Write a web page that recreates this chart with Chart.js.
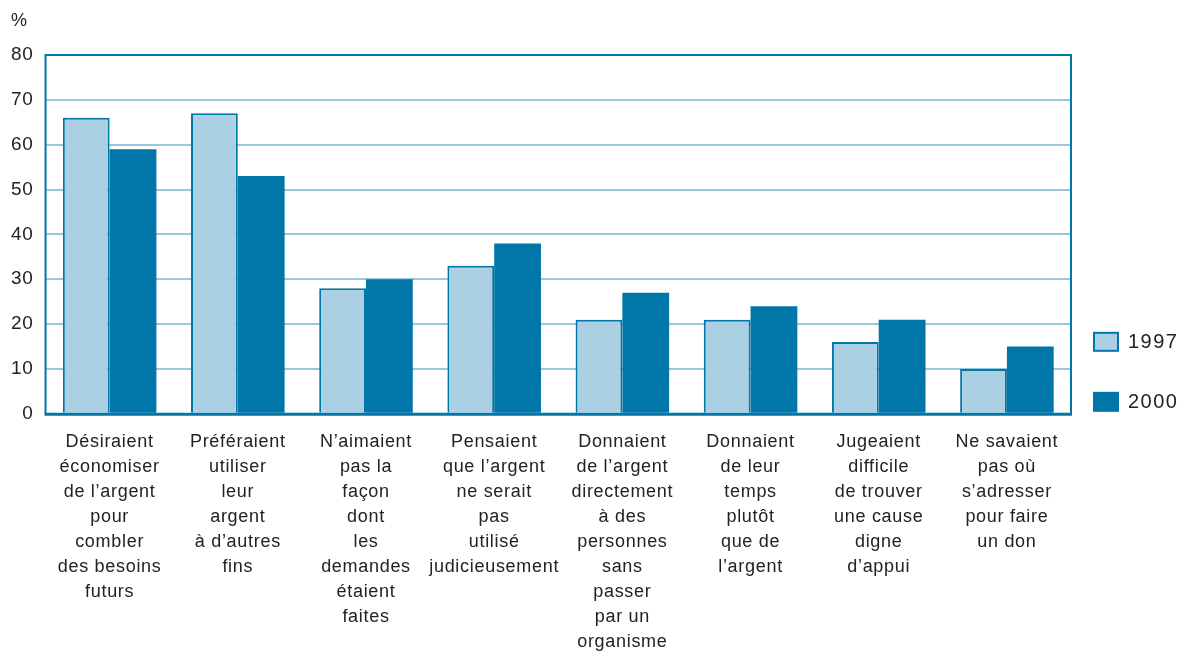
<!DOCTYPE html>
<html>
<head>
<meta charset="utf-8">
<script src="https://cdn.jsdelivr.net/npm/chart.js@4"></script>
<style>
  html, body { margin: 0; padding: 0; background: #fff; }
  #wrap { width: 1177px; height: 652px; }
</style>
</head>
<body>
<div id="wrap"><canvas id="barChart" width="1177" height="652"></canvas></div>
<script>
const categories = [
    ["Désiraient", "économiser", "de l’argent", "pour", "combler", "des besoins", "futurs"],
    ["Préféraient", "utiliser", "leur", "argent", "à d’autres", "fins"],
    ["N’aimaient", "pas la", "façon", "dont", "les", "demandes", "étaient", "faites"],
    ["Pensaient", "que l’argent", "ne serait", "pas", "utilisé", "judicieusement"],
    ["Donnaient", "de l’argent", "directement", "à des", "personnes", "sans", "passer", "par un", "organisme"],
    ["Donnaient", "de leur", "temps", "plutôt", "que de", "l’argent"],
    ["Jugeaient", "difficile", "de trouver", "une cause", "digne", "d’appui"],
    ["Ne savaient", "pas où", "s’adresser", "pour faire", "un don"]
];
const values1997 = [66, 67, 28, 33, 21, 21, 16, 10];
const values2000 = [59, 53, 30, 38, 27, 24, 21, 15];
const yTicks = [0, 10, 20, 30, 40, 50, 60, 70, 80];
const unitLabel = '%';

const darkBlue = '#0077a8';
const lightBlue = '#abd0e3';
const gridBlue = '#98c8de';
const textColor = '#222222';
const fontFamily = '"Liberation Sans", Arial, sans-serif';

// spread the letters a bit, like the printed chart
const spacing = {
    id: 'spacing',
    beforeUpdate(chart) { chart.ctx.letterSpacing = '0.7px'; },
    beforeLayout(chart) { chart.ctx.letterSpacing = '0.7px'; },
    beforeDraw(chart) { chart.ctx.letterSpacing = '0.7px'; }
};

// frame round the plot area, unit label, legend on the right low down
const frame = {
    id: 'frame',
    afterDatasetsDraw(chart) {
        const a = chart.chartArea;
        const ctx = chart.ctx;
        ctx.save();
        ctx.strokeStyle = darkBlue;
        ctx.lineWidth = 2;
        ctx.beginPath();
        ctx.moveTo(a.left, a.bottom);
        ctx.lineTo(a.left, a.top);
        ctx.lineTo(a.right, a.top);
        ctx.lineTo(a.right, a.bottom);
        ctx.stroke();
        ctx.lineWidth = 3;
        ctx.beginPath();
        ctx.moveTo(a.left - 1, a.bottom + 0.5);
        ctx.lineTo(a.right + 1, a.bottom + 0.5);
        ctx.stroke();

        ctx.fillStyle = textColor;
        ctx.font = '18px ' + fontFamily;
        ctx.textBaseline = 'middle';
        ctx.fillText(unitLabel, 11, a.top - 34);

        // legend
        ctx.letterSpacing = '1.5px';
        ctx.font = '20px ' + fontFamily;
        chart.data.datasets.forEach((ds, i) => {
            const x = a.right + 23;
            const y = a.bottom - 81 + i * 60;
            ctx.fillStyle = ds.backgroundColor;
            ctx.fillRect(x, y, 24, 18);
            ctx.strokeStyle = darkBlue;
            ctx.lineWidth = 2;
            ctx.strokeRect(x, y, 24, 18);
            ctx.fillStyle = textColor;
            ctx.fillText(ds.label, x + 34, y + 10);
        });
        ctx.restore();
    }
};

new Chart(document.getElementById('barChart'), {
    type: 'bar',
    data: {
        labels: categories,
        datasets: [{
            label: '1997',
            data: values1997,
            backgroundColor: lightBlue,
            borderColor: darkBlue,
            borderWidth: 2,
            borderSkipped: 'bottom'
        }, {
            label: '2000',
            data: values2000,
            backgroundColor: darkBlue,
            borderColor: darkBlue,
            borderWidth: 0
        }]
    },
    options: {
        responsive: false,
        animation: false,
        devicePixelRatio: 1,
        datasets: {
            bar: { categoryPercentage: 0.73, barPercentage: 1.0 }
        },
        layout: { padding: { left: -1, right: 106, top: 55, bottom: -19 } },
        scales: {
            x: {
                grid: { display: false, drawTicks: false },
                border: { display: false },
                ticks: {
                    color: textColor,
                    padding: 16,
                    maxRotation: 0,
                    autoSkip: false,
                    font: { family: fontFamily, size: 18, lineHeight: 1.39 }
                }
            },
            y: {
                min: 0,
                max: 80,
                afterBuildTicks(axis) { axis.ticks = yTicks.map(v => ({ value: v })); },
                grid: { color: gridBlue, lineWidth: 2, drawTicks: false },
                border: { display: false },
                ticks: {
                    color: textColor,
                    padding: 12,
                    font: { family: fontFamily, size: 19 }
                }
            }
        },
        plugins: {
            legend: { display: false },
            tooltip: { enabled: false }
        }
    },
    plugins: [spacing, frame]
});
</script>
</body>
</html>
